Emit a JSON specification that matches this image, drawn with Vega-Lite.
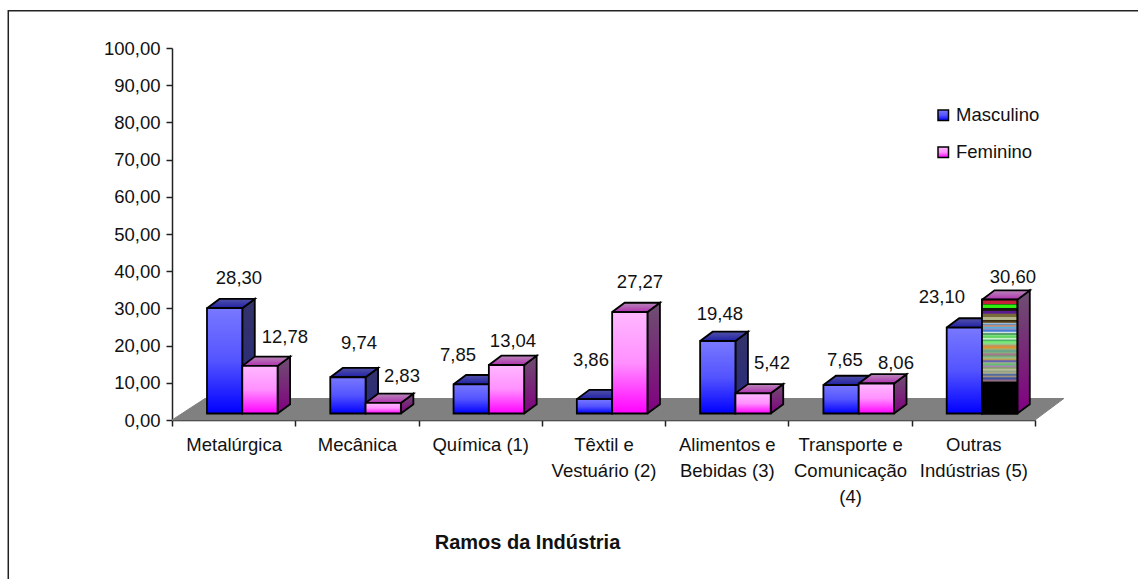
{
"$schema":"https://vega.github.io/schema/vega-lite/v6.json",
"autosize":"none","width":863,"height":372,
"padding":{"left":172,"top":48,"right":103,"bottom":159},
"background":"white",
"config":{"view":{"stroke":null},"font":"Liberation Sans"},
"data":{"values":[
{"ramo":"Metalúrgica","serie":"Masculino","valor":28.30},
{"ramo":"Metalúrgica","serie":"Feminino","valor":12.78},
{"ramo":"Mecânica","serie":"Masculino","valor":9.74},
{"ramo":"Mecânica","serie":"Feminino","valor":2.83},
{"ramo":"Química (1)","serie":"Masculino","valor":7.85},
{"ramo":"Química (1)","serie":"Feminino","valor":13.04},
{"ramo":"Têxtil e\nVestuário (2)","serie":"Masculino","valor":3.86},
{"ramo":"Têxtil e\nVestuário (2)","serie":"Feminino","valor":27.27},
{"ramo":"Alimentos e\nBebidas (3)","serie":"Masculino","valor":19.48},
{"ramo":"Alimentos e\nBebidas (3)","serie":"Feminino","valor":5.42},
{"ramo":"Transporte e\nComunicação\n(4)","serie":"Masculino","valor":7.65},
{"ramo":"Transporte e\nComunicação\n(4)","serie":"Feminino","valor":8.06},
{"ramo":"Outras\nIndústrias (5)","serie":"Masculino","valor":23.10},
{"ramo":"Outras\nIndústrias (5)","serie":"Feminino","valor":30.60}
]},
"transform":[
{"calculate":"indexof(['Metalúrgica','Mecânica','Química (1)','Têxtil e\\nVestuário (2)','Alimentos e\\nBebidas (3)','Transporte e\\nComunicação\\n(4)','Outras\\nIndústrias (5)'],datum.ramo)","as":"i"},
{"calculate":"datum.serie==='Masculino'?0:1","as":"s"},
{"calculate":"datum.i+0.2838+datum.s*0.2863","as":"L"},
{"calculate":"datum.L+0.2863","as":"R"},
{"calculate":"1.75","as":"B"},
{"calculate":"datum.B+datum.valor","as":"T"},
{"calculate":"[0,1,2,3,4]","as":"canto"},
{"calculate":"replace(format(datum.valor,'.2f'),'.',',')","as":"rotulo"},
{"calculate":"[0.543,0.916,1.517,1.865,2.320,2.766,3.398,3.796,4.444,4.866,5.458,5.872,6.245,6.821][2*datum.i+datum.s]","as":"lx"},
{"calculate":"[38.2,22.3,20.7,11.8,17.5,21.2,16.1,37.1,28.5,15.3,16.1,15.3,33.1,38.4][2*datum.i+datum.s]","as":"ly"}
],
"resolve":{"scale":{"x":"independent","y":"independent"}},
"layer":[
{"mark":{"type":"rect","fill":null,"stroke":"#222222","strokeWidth":1.5,"clip":false},
 "transform":[{"filter":"datum.i===0&&datum.s===0"}],
 "encoding":{
  "x":{"datum":-1.328,"type":"quantitative","scale":{"domain":[0,7],"nice":false,"zero":false},"axis":null},
  "x2":{"datum":9},
  "y":{"datum":110,"type":"quantitative","scale":{"domain":[0,100],"nice":false},"axis":null},
  "y2":{"datum":-60}}},
{"mark":{"type":"bar","opacity":0},
 "encoding":{
  "x":{"field":"ramo","type":"nominal","sort":null,"scale":{"paddingInner":0,"paddingOuter":0},
   "axis":{"title":"Ramos da Indústria","titleFontSize":20,"titleFontWeight":"bold","titleFont":"Liberation Sans","titleColor":"#111111","titleX":355,"titleY":122,"titleBaseline":"middle","titleAlign":"center","labelAngle":0,"labelAlign":"center","labelBaseline":"top","labelFontSize":18.5,"labelFont":"Liberation Sans","labelColor":"#111111","labelPadding":9,"labelLineHeight":26,"labelLimit":0,"labelExpr":"split(datum.label,'\\n')","tickBand":"extent","tickSize":6,"tickColor":"#222222","tickWidth":1.5,"domainColor":"#222222","domainWidth":1.5,"grid":false}},
  "y":{"field":"valor","type":"quantitative","stack":null,"scale":{"domain":[0,100],"nice":false},
   "axis":{"title":null,"values":[0,10,20,30,40,50,60,70,80,90,100],"labelExpr":"replace(format(datum.value,'.2f'),'.',',')","labelFontSize":18.5,"labelFont":"Liberation Sans","labelColor":"#111111","labelPadding":6,"tickSize":6,"tickColor":"#222222","tickWidth":1.5,"domainColor":"#222222","domainWidth":1.5,"grid":false}}}},
{"mark":{"type":"line","fill":"#808080","stroke":"#808080","strokeWidth":1},
 "transform":[{"filter":"datum.i===0&&datum.s===0"},{"flatten":["canto"]},
  {"calculate":"[0,0.268,7.234,7,0][datum.canto]","as":"px"},
  {"calculate":"[0,5.78,5.78,0,0][datum.canto]","as":"py"}],
 "encoding":{
  "x":{"field":"px","type":"quantitative","scale":{"domain":[0,7],"nice":false,"zero":false},"axis":null},
  "y":{"field":"py","type":"quantitative","scale":{"domain":[0,100],"nice":false},"axis":null},
  "order":{"field":"canto","type":"quantitative"}}},
{"mark":{"type":"line","stroke":"black","strokeWidth":1.8,"strokeJoin":"miter","fill":{"gradient":"linear","x1":0,"y1":0,"x2":0,"y2":1,"stops":[{"offset":0,"color":"#33336a"},{"offset":1,"color":"#2a2a80"}]}},
 "transform":[{"filter":"datum.s===0"},{"flatten":["canto"]},
  {"calculate":"[datum.R,datum.R+0.1014,datum.R+0.1014,datum.R,datum.R][datum.canto]","as":"px"},
  {"calculate":"[datum.B,datum.B+2.5,datum.T+2.5,datum.T,datum.B][datum.canto]","as":"py"}],
 "encoding":{
  "x":{"field":"px","type":"quantitative","scale":{"domain":[0,7],"nice":false,"zero":false},"axis":null},
  "y":{"field":"py","type":"quantitative","scale":{"domain":[0,100],"nice":false},"axis":null},
  "detail":{"field":"ramo"},"order":{"field":"canto","type":"quantitative"}}},
{"mark":{"type":"line","stroke":"black","strokeWidth":1.8,"strokeJoin":"miter","fill":{"gradient":"linear","x1":0,"y1":0,"x2":0,"y2":1,"stops":[{"offset":0,"color":"#5252a8"},{"offset":1,"color":"#2020a6"}]}},
 "transform":[{"filter":"datum.s===0"},{"flatten":["canto"]},
  {"calculate":"[datum.L,datum.R,datum.R+0.1014,datum.L+0.1014,datum.L][datum.canto]","as":"px"},
  {"calculate":"[datum.T,datum.T,datum.T+2.5,datum.T+2.5,datum.T][datum.canto]","as":"py"}],
 "encoding":{
  "x":{"field":"px","type":"quantitative","scale":{"domain":[0,7],"nice":false,"zero":false},"axis":null},
  "y":{"field":"py","type":"quantitative","scale":{"domain":[0,100],"nice":false},"axis":null},
  "detail":{"field":"ramo"},"order":{"field":"canto","type":"quantitative"}}},
{"mark":{"type":"line","stroke":"black","strokeWidth":1.8,"strokeJoin":"miter","fill":{"gradient":"linear","x1":0,"y1":0,"x2":0,"y2":1,"stops":[{"offset":0,"color":"#6e5070"},{"offset":1,"color":"#820082"}]}},
 "transform":[{"filter":"datum.s===1"},{"flatten":["canto"]},
  {"calculate":"[datum.R,datum.R+0.1014,datum.R+0.1014,datum.R,datum.R][datum.canto]","as":"px"},
  {"calculate":"[datum.B,datum.B+2.5,datum.T+2.5,datum.T,datum.B][datum.canto]","as":"py"}],
 "encoding":{
  "x":{"field":"px","type":"quantitative","scale":{"domain":[0,7],"nice":false,"zero":false},"axis":null},
  "y":{"field":"py","type":"quantitative","scale":{"domain":[0,100],"nice":false},"axis":null},
  "detail":{"field":"ramo"},"order":{"field":"canto","type":"quantitative"}}},
{"mark":{"type":"line","stroke":"black","strokeWidth":1.8,"strokeJoin":"miter","fill":{"gradient":"linear","x1":0,"y1":0,"x2":0,"y2":1,"stops":[{"offset":0,"color":"#b888b8"},{"offset":1,"color":"#b030b0"}]}},
 "transform":[{"filter":"datum.s===1"},{"flatten":["canto"]},
  {"calculate":"[datum.L,datum.R,datum.R+0.1014,datum.L+0.1014,datum.L][datum.canto]","as":"px"},
  {"calculate":"[datum.T,datum.T,datum.T+2.5,datum.T+2.5,datum.T][datum.canto]","as":"py"}],
 "encoding":{
  "x":{"field":"px","type":"quantitative","scale":{"domain":[0,7],"nice":false,"zero":false},"axis":null},
  "y":{"field":"py","type":"quantitative","scale":{"domain":[0,100],"nice":false},"axis":null},
  "detail":{"field":"ramo"},"order":{"field":"canto","type":"quantitative"}}},
{"mark":{"type":"rect","stroke":"black","strokeWidth":1.8},
 "transform":[{"filter":"datum.s===0"}],
 "encoding":{
  "x":{"field":"L","type":"quantitative","scale":{"domain":[0,7],"nice":false,"zero":false},"axis":null},
  "x2":{"field":"R"},
  "y":{"field":"T","type":"quantitative","scale":{"domain":[0,100],"nice":false},"axis":null},
  "y2":{"field":"B"},
  "fill":{"field":"serie","type":"nominal","scale":{"domain":["Masculino","Feminino"],"range":[
    {"expr":"{gradient:'linear',x1:0,y1:0,x2:0,y2:1,stops:[{offset:0,color:'#7878ff'},{offset:0.5,color:'#5454ff'},{offset:1,color:'#0000ff'}]}"},
    {"expr":"{gradient:'linear',x1:0,y1:0,x2:0,y2:1,stops:[{offset:0,color:'#ffb8ff'},{offset:0.5,color:'#ff90ff'},{offset:1,color:'#ff00ff'}]}"}]},
   "legend":{"title":null,"orient":"none","legendX":762,"legendY":58,"symbolType":"square","symbolSize":110,"symbolStrokeColor":"black","symbolStrokeWidth":1.5,"labelFont":"Liberation Sans","labelFontSize":18.5,"labelColor":"#111111","labelOffset":3.5,"rowPadding":18,"values":["Masculino","Feminino"]}}}},
{"mark":{"type":"rect","stroke":"black","strokeWidth":1.8},
 "transform":[{"filter":"datum.s===1"}],
 "encoding":{
  "x":{"field":"L","type":"quantitative","scale":{"domain":[0,7],"nice":false,"zero":false},"axis":null},
  "x2":{"field":"R"},
  "y":{"field":"T","type":"quantitative","scale":{"domain":[0,100],"nice":false},"axis":null},
  "y2":{"field":"B"},
  "fill":{"field":"serie","type":"nominal"}}},
{"mark":{"type":"rect","stroke":"black","strokeWidth":1.8,"fill":{"gradient":"linear","x1":0,"y1":0,"x2":0,"y2":1,"stops":[
 {"offset":0,"color":"#000000"},{"offset":0.008,"color":"#c8203a"},{"offset":0.035,"color":"#c8203a"},{"offset":0.04,"color":"#111111"},{"offset":0.045,"color":"#30f010"},{"offset":0.07,"color":"#30f010"},{"offset":0.075,"color":"#111111"},{"offset":0.095,"color":"#1a1a10"},{"offset":0.1,"color":"#5a1a90"},{"offset":0.12,"color":"#5a1a90"},{"offset":0.125,"color":"#7a6c3a"},{"offset":0.15,"color":"#7a6c3a"},{"offset":0.155,"color":"#b4b48a"},{"offset":0.175,"color":"#b4b48a"},{"offset":0.18,"color":"#302510"},{"offset":0.2,"color":"#5a4a20"},{"offset":0.205,"color":"#e0e0e0"},{"offset":0.215,"color":"#4a90d0"},{"offset":0.23,"color":"#e08a60"},{"offset":0.245,"color":"#50b0e0"},{"offset":0.26,"color":"#9090c0"},{"offset":0.275,"color":"#3070d8"},{"offset":0.29,"color":"#e0f0e0"},{"offset":0.3,"color":"#2f7f4f"},{"offset":0.315,"color":"#80e080"},{"offset":0.33,"color":"#50d050"},{"offset":0.345,"color":"#f0fff0"},{"offset":0.355,"color":"#40a060"},{"offset":0.37,"color":"#70f070"},{"offset":0.39,"color":"#90d090"},{"offset":0.405,"color":"#c09060"},{"offset":0.42,"color":"#e09030"},{"offset":0.435,"color":"#a0b070"},{"offset":0.45,"color":"#60a090"},{"offset":0.465,"color":"#80b080"},{"offset":0.48,"color":"#b07090"},{"offset":0.495,"color":"#70a070"},{"offset":0.51,"color":"#90c090"},{"offset":0.525,"color":"#c0a050"},{"offset":0.54,"color":"#5050c0"},{"offset":0.555,"color":"#a0b090"},{"offset":0.57,"color":"#60c070"},{"offset":0.585,"color":"#b080c0"},{"offset":0.6,"color":"#80a060"},{"offset":0.615,"color":"#c0c0a0"},{"offset":0.63,"color":"#90a080"},{"offset":0.645,"color":"#b0b090"},{"offset":0.66,"color":"#4060a0"},{"offset":0.675,"color":"#a09080"},{"offset":0.69,"color":"#3050a0"},{"offset":0.705,"color":"#806090"},{"offset":0.718,"color":"#a08080"},{"offset":0.72,"color":"#000000"},{"offset":1,"color":"#000000"}]}},
 "transform":[{"filter":"datum.s===1&&datum.i===6"}],
 "encoding":{
  "x":{"field":"L","type":"quantitative","scale":{"domain":[0,7],"nice":false,"zero":false},"axis":null},
  "x2":{"field":"R"},
  "y":{"field":"T","type":"quantitative","scale":{"domain":[0,100],"nice":false},"axis":null},
  "y2":{"field":"B"}}},
{"mark":{"type":"text","fontSize":18.5,"font":"Liberation Sans","color":"#111111","align":"center","baseline":"middle"},
 "encoding":{
  "x":{"field":"lx","type":"quantitative","scale":{"domain":[0,7],"nice":false,"zero":false},"axis":null},
  "y":{"field":"ly","type":"quantitative","scale":{"domain":[0,100],"nice":false},"axis":null},
  "text":{"field":"rotulo"}}}
]
}
